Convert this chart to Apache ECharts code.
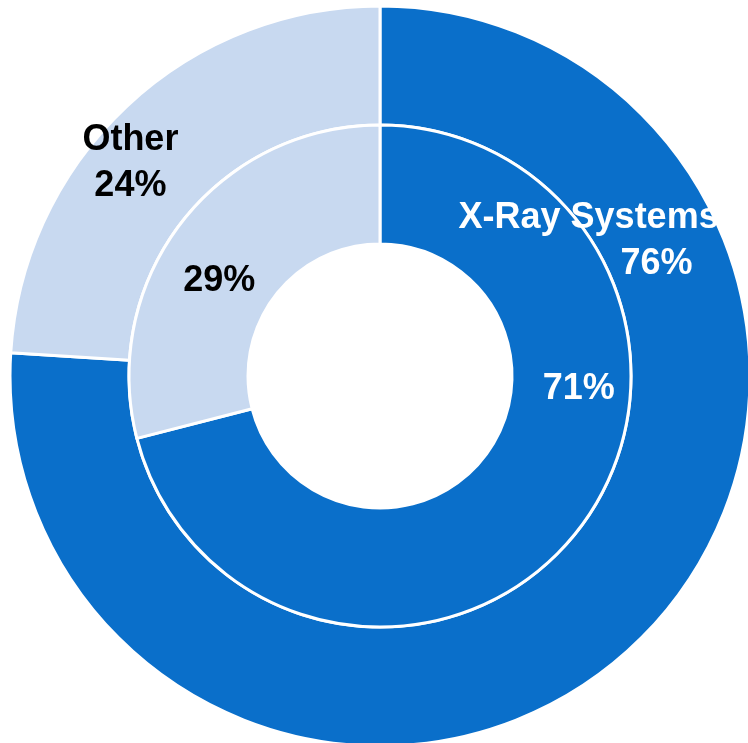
<!DOCTYPE html>
<html>
<head>
<meta charset="utf-8">
<script src="https://cdn.jsdelivr.net/npm/echarts@6/dist/echarts.min.js"></script>
<style>
  html, body { margin: 0; padding: 0; background: #ffffff; }
  #chart { width: 748px; height: 743px; }
</style>
</head>
<body>
<div id="chart"></div>
<script>
// Segment names, shared by both rings
const categories = ['X-Ray Systems', 'Other'];
// Outer ring shares (%)
const outerValues = [76, 24];
// Inner ring shares (%)
const innerValues = [71, 29];

const BLUE = '#0A6FCA';
const LIGHT = '#C8D9F0';
const colors = [BLUE, LIGHT];
const labelColors = ['#ffffff', '#000000'];
const FONT = 'Liberation Sans, Arial, sans-serif';

// Label nudges from the default in-sector spot
const outerNudge = [[-6, -363], [-35, 16]];
const innerNudge = [[45, -106], [-7, 24]];

const baseText = {
  fontFamily: FONT,
  fontWeight: 'bold',
  fontSize: 36,
  lineHeight: 46
};

const outerData = categories.map((name, i) => ({
  name: name,
  value: outerValues[i],
  itemStyle: { color: colors[i] },
  label: {
    color: labelColors[i],
    formatter: function (p) {
      return '{n|' + p.name + '}\n{' + (i === 0 ? 'vs' : 'v') + '|' + p.value + '%}';
    },
    rich: {
      n: Object.assign({ color: labelColors[i] }, baseText),
      v: Object.assign({ color: labelColors[i] }, baseText),
      vs: Object.assign({ color: labelColors[i], padding: [0, 0, 0, 136] }, baseText)
    }
  }
}));

const innerData = categories.map((name, i) => ({
  name: name,
  value: innerValues[i],
  itemStyle: { color: colors[i] },
  label: {
    color: labelColors[i],
    formatter: function (p) { return p.value + '%'; }
  }
}));

const chart = echarts.init(document.getElementById('chart'), null, { renderer: 'canvas' });
chart.setOption({
  backgroundColor: '#ffffff',
  animation: false,
  series: [
    {
      type: 'pie',
      center: [380, 376],
      radius: [251, 370],
      startAngle: 90,
      clockwise: true,
      silent: true,
      itemStyle: { borderColor: '#ffffff', borderWidth: 3 },
      label: Object.assign({ show: true, position: 'inside' }, baseText),
      labelLine: { show: false },
      labelLayout: function (p) {
        const d = outerNudge[p.dataIndex];
        return { dx: d[0], dy: d[1] };
      },
      data: outerData
    },
    {
      type: 'pie',
      center: [380, 376],
      radius: [132, 251],
      startAngle: 90,
      clockwise: true,
      silent: true,
      itemStyle: { borderColor: '#ffffff', borderWidth: 3 },
      label: Object.assign({ show: true, position: 'inside' }, baseText),
      labelLine: { show: false },
      labelLayout: function (p) {
        const d = innerNudge[p.dataIndex];
        return { dx: d[0], dy: d[1] };
      },
      data: innerData
    }
  ]
});
</script>
</body>
</html>
